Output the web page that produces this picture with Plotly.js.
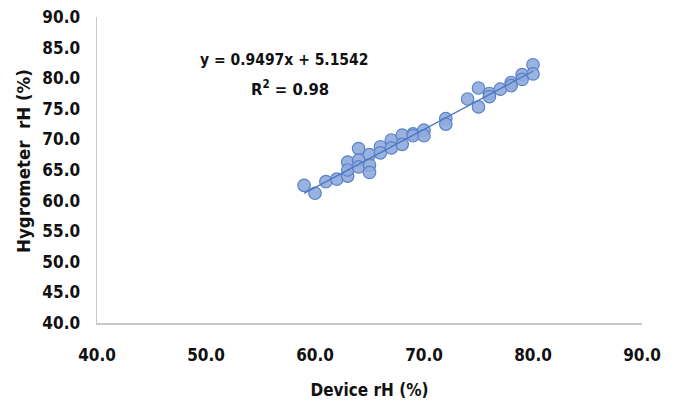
<!DOCTYPE html>
<html>
<head>
<meta charset="utf-8">
<script src="https://cdn.plot.ly/plotly-3.0.1.min.js"></script>
<style>html,body{margin:0;padding:0;background:#fff}#chart{width:675px;height:407px}</style>
</head>
<body>
<div id="chart"></div>
<script>
// Device rH (%) readings
const deviceRH = [59,60,61,62,63,63,63,64,64,64,65,65,65,66,66,67,67,68,68,69,69,70,70,72,72,74,75,75,76,76,77,78,78,79,79,80,80];
// Hygrometer rH (%) readings
const hygroRH = [62.5,61.2,63.1,63.5,64.0,66.3,65.0,68.5,66.6,65.5,67.5,65.8,64.6,68.8,67.8,69.9,68.6,70.7,69.2,70.9,70.6,71.5,70.6,73.4,72.5,76.6,78.4,75.3,77.5,77.0,78.2,79.3,78.8,80.6,79.8,82.2,80.7];
// Linear trend reported on the chart
const trendSlope = 0.9497;
const trendIntercept = 5.1542;
const trendLabel = "y = 0.9497x + 5.1542";
const r2Label = "R<sup>2</sup> = 0.98";
const xTitle = "Device rH (%)";
const yTitle = "Hygrometer  rH (%)";
const xTickVals = [40,50,60,70,80,90];
const yTickVals = [40,45,50,55,60,65,70,75,80,85,90];

const xMin = Math.min(...deviceRH), xMax = Math.max(...deviceRH);
const trendX = [xMin, xMax];
const trendY = trendX.map(v => trendSlope * v + trendIntercept);

const FONT = "Liberation Sans Narrow, DejaVu Sans Condensed, Arial Narrow, sans-serif";

const data = [
  {
    x: deviceRH, y: hygroRH, type: 'scatter', mode: 'markers',
    marker: {size: 12.5, color: 'rgba(143,170,220,0.9)', line: {color: '#5b82c8', width: 1.2}},
    showlegend: false, hoverinfo: 'skip'
  },
  {
    x: trendX, y: trendY, type: 'scatter', mode: 'lines',
    line: {color: '#4a76c0', width: 1.3},
    showlegend: false, hoverinfo: 'skip'
  }
];

const layout = {
  width: 675, height: 407,
  margin: {l: 97, r: 33, t: 17, b: 84},
  paper_bgcolor: '#fff', plot_bgcolor: '#fff',
  font: {family: FONT, size: 16, color: '#111'},
  xaxis: {
    range: [40, 90], tickvals: xTickVals, tickformat: '.1f',
    showgrid: false, zeroline: false, showline: true, linecolor: '#c8c8c8', linewidth: 1.5,
    ticks: '', ticklabelstandoff: 16,
    tickfont: {family: FONT, size: 17, color: '#111', weight: 'bold'},
    title: {text: xTitle, font: {family: FONT, size: 17, color: '#111', weight: 'bold'}, standoff: 20}
  },
  yaxis: {
    range: [40, 90], tickvals: yTickVals, tickformat: '.1f',
    showgrid: false, zeroline: false, showline: true, linecolor: '#c8c8c8', linewidth: 1.5,
    ticks: '', ticklabelstandoff: 12,
    tickfont: {family: FONT, size: 17, color: '#111', weight: 'bold'}
  },
  annotations: [
    {x: 0, y: 0, xref: 'paper', yref: 'paper', xanchor: 'center', yanchor: 'middle',
     text: yTitle, showarrow: false, textangle: -90,
     font: {family: FONT, size: 18.5, color: '#111', weight: 'bold'}},
    {x: 57.2, y: 83.0, xref: 'x', yref: 'y', text: trendLabel, showarrow: false,
     font: {family: FONT, size: 15.5, color: '#111', weight: 'bold'}},
    {x: 57.7, y: 78.4, xref: 'x', yref: 'y', text: r2Label, showarrow: false,
     font: {family: FONT, size: 16.5, color: '#111', weight: 'bold'}}
  ]
};
// convert pixel position of y title into paper coordinates
const pw = 675 - 97 - 33, ph = 407 - 17 - 84;
layout.annotations[0].x = (23 - 97) / pw;
layout.annotations[0].y = (407 - 84 - 161) / ph;

Plotly.newPlot('chart', data, layout, {displayModeBar: false, staticPlot: true});
</script>
</body>
</html>
